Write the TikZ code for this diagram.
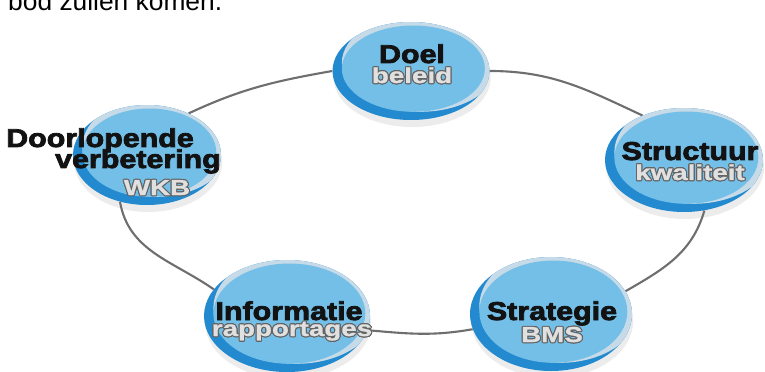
\documentclass[tikz,border=0pt]{standalone}
\usepackage{fontspec}
\setmainfont{Liberation Sans}
\newfontfamily\discfont[FakeBold=3,FakeStretch=1.18]{Liberation Sans Bold}
\newfontfamily\subfont[FakeBold=1,FakeStretch=1.28]{Liberation Sans Bold}
\usepackage{contour}
\contourlength{0.9pt}
\usetikzlibrary{shapes.geometric,shadows,calc,backgrounds}

\definecolor{rimblue}{HTML}{238AD0}
\definecolor{discblue}{HTML}{74BFE7}
\definecolor{rimlight}{HTML}{C6DAE8}
\definecolor{ringgray}{HTML}{6E6E6E}
\definecolor{labelblack}{HTML}{121212}
\definecolor{subfill}{HTML}{E0E0E0}
\definecolor{subline}{HTML}{646464}

\tikzset{
  disc/.style={ellipse, fill=rimblue, inner sep=0pt,
    drop shadow={opacity=.15, shadow xshift=1pt, shadow yshift=-6pt},
    path picture={
      \fill[rimlight] let \p1=(path picture bounding box.south west),
        \p2=(path picture bounding box.north east) in
        ($(\p1)!.5!(\p2)+(8pt,7pt)$) ellipse ({(\x2-\x1)/2} and {(\y2-\y1)/2});
      \fill[discblue] let \p1=(path picture bounding box.south west),
        \p2=(path picture bounding box.north east) in
        ($(\p1)!.5!(\p2)+(2pt,2pt)$) ellipse ({(\x2-\x1)/2-6pt} and {(\y2-\y1)/2-5pt});
    }},
  mainlabel/.style={font=\discfont\fontsize{22}{22}\selectfont, text=labelblack,
    inner sep=0pt, anchor=base},
  sublabel/.style={font=\subfont\fontsize{18.5}{18.5}\selectfont, text=subfill,
    inner sep=0pt, anchor=base},
  ring/.style={draw=ringgray, line width=1.8pt}
}

\begin{document}
\begin{tikzpicture}[x=0.03cm, y=-0.03cm]
    \useasboundingbox (0,0) rectangle (765,372);
    \clip (0,0) rectangle (765,372);

    \node (intro) at (8,11) [anchor=base west, inner sep=0pt,
      font=\fontsize{22.5}{22.5}\selectfont] {bod zullen komen.};

    % the five discs
    \node (doel) at (411,71) [disc, minimum width=4.71cm, minimum height=2.94cm] {};
    \node (doorl) at (147,155) [disc, minimum width=4.44cm, minimum height=3.0cm] {};
    \node (struct) at (684,160) [disc, minimum width=4.74cm, minimum height=3.12cm] {};
    \node (info) at (287,316) [disc, minimum width=4.98cm, minimum height=3.36cm] {};
    \node (strat) at (551,314) [disc, minimum width=4.86cm, minimum height=3.42cm] {};

    % labels
    \node (doelT) at (412,63) [mainlabel] {Doel};
    \node (doelS) at (412,83) [sublabel] {\contour{subline}{beleid}};

    \node (doorlT) at (100,147) [mainlabel] {Doorlopende};
    \node (doorlU) at (138,168) [mainlabel] {verbetering};
    \node (doorlS) at (157,195) [sublabel] {\contour{subline}{WKB}};

    \node (structT) at (690,160) [mainlabel] {Structuur};
    \node (structS) at (690,180) [sublabel] {\contour{subline}{kwaliteit}};

    \node (infoT) at (289,320) [mainlabel] {Informatie};
    \node (infoS) at (292,336) [sublabel] {\contour{subline}{rapportages}};

    \node (stratT) at (552,320) [mainlabel] {Strategie};
    \node (stratS) at (552,342) [sublabel] {\contour{subline}{BMS}};

    % the ring
    \begin{scope}[on background layer]
      \draw[ring] (doel.west) to[out=190, in=25] (doorl.45);
      \draw[ring] (doel.east) to[out=0, in=155] (struct.133);
      \draw[ring] (struct.-68) to[out=-106, in=30] (strat.17);
      \draw[ring] (strat.191) to[out=190, in=-5] (info.-10);
      \draw[ring] (info.160) to[out=145, in=-80] (doorl.-120);
    \end{scope}
\end{tikzpicture}
\end{document}
